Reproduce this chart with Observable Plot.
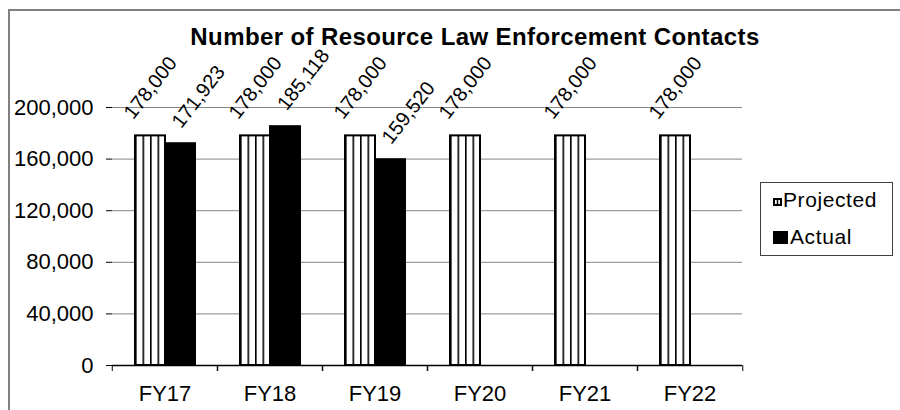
<!DOCTYPE html>
<html>
<head>
<meta charset="utf-8">
<script src="https://cdn.jsdelivr.net/npm/d3@7"></script>
<script src="https://cdn.jsdelivr.net/npm/@observablehq/plot@0.6"></script>
<style>
  html, body { margin: 0; padding: 0; background: #fff; }
  #wrap { position: relative; width: 900px; height: 410px; overflow: hidden; font-family: "Liberation Sans", Arial, sans-serif; }
  #border { position: absolute; left: 8px; top: 9px; width: 900px; height: 410px; border-left: 2px solid #808080; border-top: 2px solid #808080; }
  #chart { position: absolute; left: 0; top: 0; }
  #title { position: absolute; left: 25px; top: 24.7px; width: 900px; text-align: center; font-weight: bold; font-size: 24px; line-height: 24px; letter-spacing: 0.4px; color: #000; }
  #legend { position: absolute; left: 760px; top: 182px; width: 131px; height: 72px; border: 1px solid #404040; background: #fff; }
  .item { position: absolute; left: 0; font-size: 21px; line-height: 20px; letter-spacing: 0.6px; color: #000; white-space: nowrap; }
</style>
</head>
<body>
<div id="wrap">
  <div id="border"></div>
  <div id="chart"></div>
  <div id="title"></div>
  <div id="legend"></div>
</div>
<script>
const titleText = "Number of Resource Law Enforcement Contacts";
const years = ["FY17", "FY18", "FY19", "FY20", "FY21", "FY22"];
const series = ["Projected", "Actual"];
const projected = [178000, 178000, 178000, 178000, 178000, 178000];
const actual = [171923, 185118, 159520, null, null, null];
const yTicks = [0, 40000, 80000, 120000, 160000, 200000];
const seriesFills = ["url(#stripes)", "#000000"];

const fmt = d3.format(",");
const data = years.flatMap((year, i) => [
  {year, series: "Projected", value: projected[i]},
  {year, series: "Actual", value: actual[i]}
]).filter(d => d.value != null);

const W = 900, H = 410, ML = 110, MR = 157, MT = 107, MB = 45;
const step = (W - ML - MR) / years.length;
const gridColor = "#868686";

const plot = Plot.plot({
  width: W, height: H,
  marginLeft: ML, marginRight: MR, marginTop: MT, marginBottom: MB,
  style: {fontFamily: "'Liberation Sans', Arial, sans-serif", fontSize: "22px", background: "transparent", color: "#000"},
  fx: {domain: years, padding: 0, label: null},
  x: {domain: series, paddingInner: 0, paddingOuter: 0.7, axis: null},
  y: {domain: [0, 200000], label: null},
  color: {domain: series, range: seriesFills},
  marks: [
    Plot.gridY(yTicks, {stroke: gridColor, strokeOpacity: 1}),
    Plot.barY(data, {fx: "year", x: "series", y: "value", fill: "series", stroke: "#000", strokeWidth: 2}),
    Plot.ruleY([0], {stroke: "#000", strokeWidth: 1.5}),
    Plot.axisY(yTicks, {anchor: "left", tickSize: 6, tickPadding: 13, tickFormat: fmt, line: true, color: "#000", fontSize: 22, label: null}),
    Plot.axisY([], {anchor: "right", tickSize: 0, line: true, color: gridColor, label: null}),
    Plot.axisFx({anchor: "bottom", tickSize: 0, tickPadding: 20, fontSize: 22, label: null}),
    Plot.axisFx({anchor: "bottom", tickSize: 6, tickFormat: () => "", dx: -step / 2, label: null}),
    Plot.axisFx({anchor: "bottom", tickSize: 6, tickFormat: () => "", dx: step / 2, label: null}),
    Plot.text(data.filter(d => d.series === "Projected"), {
      fx: "year", x: "series", y: "value", text: d => fmt(d.value),
      rotate: -52, dy: -48, dx: 0, fontSize: 20, textAnchor: "middle", fill: "#000"
    }),
    Plot.text(data.filter(d => d.series === "Actual"), {
      fx: "year", x: "series", y: "value", text: d => fmt(d.value),
      rotate: -52, dy: -47, dx: 18, fontSize: 20, textAnchor: "middle", fill: "#000"
    })
  ]
});

// stripe pattern for the projected bars
const svg = d3.select(plot.tagName.toLowerCase() === "svg" ? plot : plot.querySelector("svg"));
const defs = svg.insert("defs", ":first-child");
const pat = defs.append("pattern").attr("id", "stripes")
  .attr("patternUnits", "objectBoundingBox").attr("x", 0).attr("y", 0)
  .attr("width", 0.25).attr("height", 1);
pat.append("rect").attr("width", 100).attr("height", 1000).attr("fill", "#fff");
pat.append("rect").attr("x", 0).attr("width", 1.6).attr("height", 1000).attr("fill", "#000");

document.getElementById("chart").appendChild(plot);
document.getElementById("title").textContent = titleText;

// legend
const legend = d3.select("#legend");
const items = [
  {name: series[0], top: 7, sw: {x: 12, y: 15, w: 9, h: 8}, tx: 22},
  {name: series[1], top: 44, sw: {x: 12, y: 48, w: 15, h: 13}, tx: 29}
];
items.forEach((it, i) => {
  const s = legend.append("svg").style("position", "absolute")
    .style("left", it.sw.x + "px").style("top", it.sw.y + "px")
    .attr("width", it.sw.w).attr("height", it.sw.h);
  if (i === 0) {
    s.append("rect").attr("x", 1).attr("y", 1).attr("width", it.sw.w - 2).attr("height", it.sw.h - 2)
      .attr("fill", "#fff").attr("stroke", "#000").attr("stroke-width", 2);
    s.append("line").attr("x1", it.sw.w / 2).attr("x2", it.sw.w / 2).attr("y1", 0).attr("y2", it.sw.h)
      .attr("stroke", "#000").attr("stroke-width", 1.5);
  } else {
    s.append("rect").attr("width", it.sw.w).attr("height", it.sw.h).attr("fill", seriesFills[1]);
  }
  legend.append("div").attr("class", "item")
    .style("left", it.tx + "px").style("top", it.top + "px")
    .text(it.name);
});
</script>
</body>
</html>
